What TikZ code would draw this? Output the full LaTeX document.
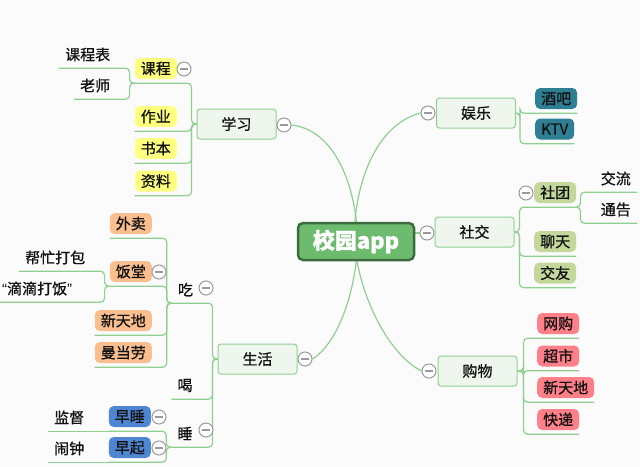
\documentclass[tikz,border=0pt]{standalone}
\usepackage{fontspec}
\setmainfont{Noto Sans CJK SC}[FakeBold=0.8]
\newfontfamily\latq{Liberation Sans}
\usetikzlibrary{calc}
\definecolor{bgc}{HTML}{FBFBFB}
\definecolor{lnc}{HTML}{8FCF8F}
\definecolor{mainfill}{HTML}{EFF6EE}
\definecolor{mainedge}{HTML}{90D090}
\definecolor{cfill}{HTML}{6DBB6E}
\definecolor{cedge}{HTML}{3E6B3E}
\definecolor{yel}{HTML}{FFFF80}
\definecolor{tealc}{HTML}{2E7E94}
\definecolor{olv}{HTML}{C5D89B}
\definecolor{pnk}{HTML}{FF8088}
\definecolor{org}{HTML}{FBBF8F}
\definecolor{blu}{HTML}{4F86D4}
\definecolor{collc}{HTML}{9A9A9A}
\definecolor{txc}{HTML}{111111}
\pgfdeclarelayer{back}
\pgfdeclarelayer{lines}
\pgfsetlayers{back,lines,main}
\tikzset{
 ln/.style={draw=lnc, line width=1.2pt},
 br/.style={ln, rounded corners=4pt},
 fs/.style={font=\fontsize{15}{15}\selectfont, text=txc},
 mainbox/.style={fs, draw=mainedge, fill=mainfill, line width=1pt, rounded corners=3pt, minimum width=79pt, minimum height=30pt, inner sep=0pt},
 tag/.style={fs, rounded corners=5pt, minimum height=21pt, inner xsep=6pt, inner ysep=0pt},
 txt/.style={fs, minimum height=19pt, inner xsep=6pt, inner ysep=0pt},
 coll/.style={circle, draw=collc, fill=white, line width=1pt, minimum size=14pt, inner sep=0pt,
   path picture={\draw[collc, line width=1.2pt] ([xshift=-4pt]path picture bounding box.center) -- ([xshift=4pt]path picture bounding box.center);}},
 central/.style={fill=cfill, draw=cedge, line width=2.5pt, rounded corners=5pt, minimum width=116pt, minimum height=37pt, inner sep=0pt, text=white, font=\fontsize{22}{22}\selectfont\bfseries}
}
\begin{document}
\begin{tikzpicture}[x=1pt,y=-1pt]
\begin{pgfonlayer}{back}
\fill[bgc] (0,0) rectangle (640,466);
\end{pgfonlayer}
\useasboundingbox (0,0) rectangle (640,466);

% central
\node[central] (c) at (356,241.5) {校园app};

% main branches
\node[mainbox] (xx) at (236.5,124) {学习};
\node[coll] (xxc) at (284,125) {};
\node[mainbox] (sh) at (257.5,359) {生活};
\node[coll] (shc) at (305,359) {};
\node[mainbox] (yl) at (476,113) {娱乐};
\node[coll] (ylc) at (428,113) {};
\node[mainbox] (sj) at (474.5,232) {社交};
\node[coll] (sjc) at (427,233) {};
\node[mainbox] (gw) at (477.5,371) {购物};
\node[coll] (gwc) at (429,371) {};

% xuexi children
\node[tag, fill=yel, anchor=east] (kc) at (177,68.5) {课程};
\node[coll] (kcc) at (184,69) {};
\node[tag, fill=yel, anchor=east] (zy) at (177,116.5) {作业};
\node[tag, fill=yel, anchor=east] (sb) at (177,148.5) {书本};
\node[tag, fill=yel, anchor=east] (zl) at (177,181) {资料};
\node[txt, anchor=west] (kcb) at (59,54.5) {课程表};
\node[txt, anchor=west] (ls) at (74,85.5) {老师};

% yule children
\node[tag, fill=tealc, anchor=west] (jb) at (535,98.5) {酒吧};
\node[tag, fill=tealc, anchor=west] (ktv) at (535,129) {KTV};

% shejiao children
\node[tag, fill=olv, anchor=west] (st) at (534,192.5) {社团};
\node[coll] (stc) at (526,193) {};
\node[tag, fill=olv, anchor=west] (lt) at (534,241.5) {聊天};
\node[tag, fill=olv, anchor=west] (jy) at (534,273) {交友};
\node[txt, anchor=east] (jl) at (637,178.5) {交流};
\node[txt, anchor=east] (tg) at (637,209.5) {通告};

% gouwu children
\node[tag, fill=pnk, anchor=west] (wg) at (537,323.5) {网购};
\node[tag, fill=pnk, anchor=west] (cs) at (537,356) {超市};
\node[tag, fill=pnk, anchor=west] (xtd) at (537,387.5) {新天地};
\node[tag, fill=pnk, anchor=west] (kd) at (537,419.5) {快递};

% shenghuo children
\node[txt] (chi) at (185.5,289.5) {吃};
\node[coll] (chic) at (206,288) {};
\node[txt] (he) at (185,385.5) {喝};
\node[txt] (shui) at (185,433.5) {睡};
\node[coll] (shuic) at (206,430) {};

\node[tag, fill=org, anchor=east] (wm) at (152,223.5) {外卖};
\node[tag, fill=org, anchor=east] (ft) at (152,271.5) {饭堂};
\node[coll] (ftc) at (159,272) {};
\node[tag, fill=org, anchor=east] (xtd2) at (152,320.5) {新天地};
\node[tag, fill=org, anchor=east] (mdl) at (152,352.5) {曼当劳};
\node[txt, anchor=west] (bm) at (19,257.5) {帮忙打包};
\node[txt, anchor=west] (dd) at (-4,288.5) {{\latq “}滴滴打饭{\latq ”}};

\node[tag, fill=blu, anchor=east] (zs) at (151,416.5) {早睡};
\node[coll] (zsc) at (159,417) {};
\node[tag, fill=blu, anchor=east] (zq) at (151,447.5) {早起};
\node[coll] (zqc) at (159,448) {};
\node[txt, anchor=west] (jd) at (48,417.5) {监督};
\node[txt, anchor=west] (nz) at (48,448.5) {闹钟};

\begin{pgfonlayer}{lines}
% central curves
\draw[ln] (xxc.east) .. controls (335,130) and (356,185) .. ($(c.center)+(2,0)$);
\draw[ln] (ylc.west) .. controls (375,125) and (354,185) .. ($(c.center)+(-2,0)$);
\draw[ln] (shc.east) .. controls (335,345) and (355,300) .. ($(c.center)+(2,0)$);
\draw[ln] (gwc.west) .. controls (390,355) and (360,300) .. ($(c.center)+(-2,0)$);
\draw[ln] (c.east |- sjc) -- (sjc);

% xuexi
\foreach \n in {kc,zy,sb,zl}
  \draw[br] (xx.west) -- ++(-5,0) |- ($(\n.south west)+(0,4)$);
\foreach \n in {kcb,ls}
  \draw[br] ($(kc.south west)+(0,4)$) -- ++(-5,0) |- ($(\n.south west)+(0,4)$);

% yule
\foreach \n in {jb,ktv}
  \draw[br] (yl.east) -- ++(4,0) |- ($(\n.south east)+(0,4)$);

% shejiao
\foreach \n in {st,lt,jy}
  \draw[br] (sj.east) -- ++(5,0) |- ($(\n.south east)+(0,4)$);
\foreach \n in {jl,tg}
  \draw[br] ($(st.south east)+(0,4)$) -- ++(4,0) |- ($(\n.south east)+(0,4)$);

% gouwu
\foreach \n in {wg,cs,xtd,kd}
  \draw[br] (gw.east) -- ++(6,0) |- ($(\n.south east)+(0,4)$);

% shenghuo
\foreach \n in {chi,he,shui}
  \draw[br] (sh.west) -- ++(-5,0) |- ($(\n.south west)+(0,4)$);
\foreach \n in {wm,ft,xtd2,mdl}
  \draw[br] ($(chi.south west)+(0,4)$) -- ++(-5,0) |- ($(\n.south west)+(0,4)$);
\foreach \n in {bm,dd}
  \draw[br] ($(ft.south west)+(0,4)$) -- ++(-5,0) |- ($(\n.south west)+(0,4)$);
\foreach \n in {zs,zq}
  \draw[br] ($(shui.south west)+(0,4)$) -- ++(-5,0) |- ($(\n.south west)+(0,4)$);
\draw[br] ($(zs.south west)+(0,4)$) -- ($(jd.south west)+(0,4)$);
\draw[br] ($(zq.south west)+(0,4)$) -- ($(nz.south west)+(0,4)$);
\end{pgfonlayer}
\end{tikzpicture}
\end{document}
